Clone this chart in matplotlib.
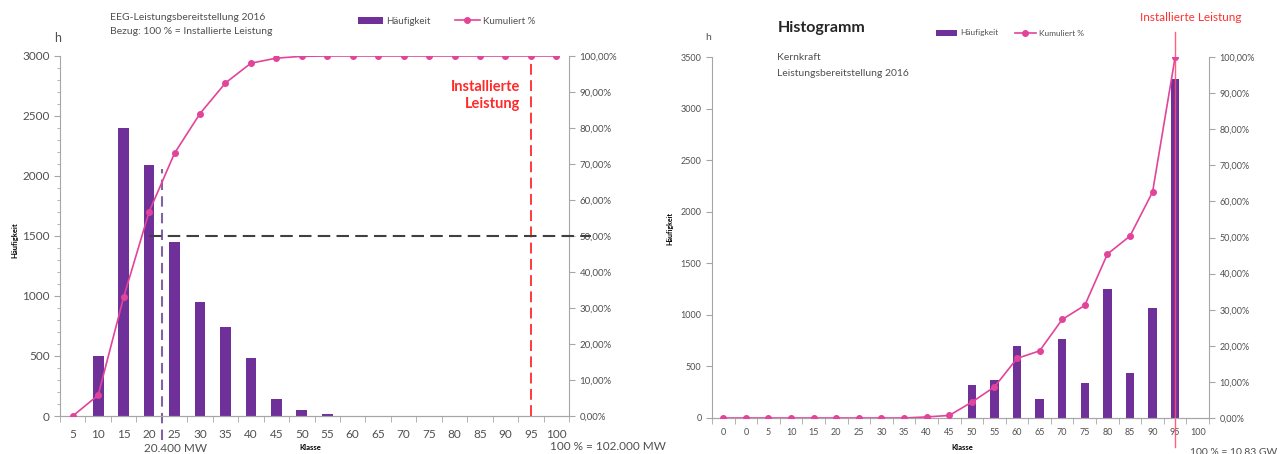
"""
Two Excel-style histograms (EEG and Kernkraft power availability 2016)
with cumulative percentage on a secondary axis.
"""

import matplotlib
matplotlib.use("Agg")
import matplotlib.pyplot as plt
from matplotlib.ticker import FuncFormatter, MultipleLocator
import numpy as np

plt.rcParams["font.family"] = ["Lato", "DejaVu Sans"]

BAR_COLOR  = "#70309A"
LINE_COLOR = "#E2449A"
AXIS_GRAY  = "#A6A6A6"
TEXT_COLOR = "#505050"

# ── EEG (left chart) ───────────────────────────────────────────────────────────
eeg_classes = ["5", "10", "15", "20", "25", "30", "35", "40", "45", "50",
               "55", "60", "65", "70", "75", "80", "85", "90", "95", "100"]
eeg_hours   = [0, 500, 2400, 2090, 1450, 950, 745, 480, 140, 50,
               15, 0, 0, 0, 0, 0, 0, 0, 0, 0]
eeg_cum_pct = [0, 5.8, 33, 56.7, 73, 84, 92.5, 98, 99.4, 99.9,
               100, 100, 100, 100, 100, 100, 100, 100, 100, 100]

# ── Kernkraft (right chart) ────────────────────────────────────────────────────
kk_classes = ["0", "0", "5", "10", "15", "20", "25", "30", "35", "40", "45",
              "50", "55", "60", "65", "70", "75", "80", "85", "90", "95", "100"]
kk_hours   = [0, 0, 0, 0, 0, 0, 0, 0, 0, 0, 0,
              320, 370, 695, 183, 765, 338, 1250, 435, 1068, 3285, 0]
kk_cum_pct = [0, 0, 0, 0, 0, 0, 0, 0, 0, 0.3, 0.7,
              4.4, 8.6, 16.5, 18.6, 27.3, 31.2, 45.4, 50.4, 62.6, 100.0]


def pct_fmt(v, _pos):
    return f"{v:.2f}%".replace(".", ",")


def style_axes(ax, ax2, fs):
    for a in (ax, ax2):
        a.spines["top"].set_visible(False)
        for s in ("left", "right", "bottom"):
            a.spines[s].set_color(AXIS_GRAY)
            a.spines[s].set_linewidth(0.8)
        a.tick_params(colors=AXIS_GRAY, labelcolor=TEXT_COLOR, labelsize=fs,
                      length=4, width=0.8)
    ax.spines["right"].set_visible(False)
    ax2.spines["left"].set_visible(False)
    ax2.yaxis.set_major_formatter(FuncFormatter(pct_fmt))


fig = plt.figure(figsize=(12.88, 4.54), dpi=100)

# ── left chart ────────────────────────────────────────────────────────────────
ax = fig.add_axes([0.0466, 0.0837, 0.3952, 0.793])
ax2 = ax.twinx()
x = np.arange(len(eeg_classes))
ax.bar(x, eeg_hours, width=0.42, color=BAR_COLOR, label="Häufigkeit", zorder=2)
ax2.plot(x, eeg_cum_pct, color=LINE_COLOR, lw=1.2, marker="o", ms=4,
         label="Kumuliert %", zorder=3)
ax.set_xlim(-0.5, len(x) - 0.5)
ax.set_ylim(0, 3000)
ax2.set_ylim(0, 100)
ax.yaxis.set_major_locator(MultipleLocator(500))
ax.yaxis.set_minor_locator(MultipleLocator(100))
ax2.yaxis.set_major_locator(MultipleLocator(10))
ax.set_xticks(x)
ax.set_xticklabels(eeg_classes)
ax.set_xticks(np.arange(-0.5, len(x), 1), minor=True)
style_axes(ax, ax2, 8.5)
ax.tick_params(axis="x", which="major", length=0, pad=9)
ax.tick_params(axis="x", which="minor", length=4, color=AXIS_GRAY)
ax.tick_params(axis="y", which="minor", length=2.5, color=AXIS_GRAY)
ax2.tick_params(axis="y", labelsize=7)

# reference lines
ax.plot([3.5, 3.5], [-200, 2060], color="#8064A2", lw=1.5, ls=(0, (5, 3)),
        clip_on=False, zorder=4)
ax2.plot([3.0, 20.35], [50, 50], color="#404040", lw=1.5, ls=(0, (6, 3)),
         clip_on=False, zorder=4)
ax.axvline(18, ymin=0, ymax=1.0, color="#FF2A2A", lw=1.3, ls=(0, (6, 3)),
           zorder=4)
ax.text(17.6, 2800, "Installierte\nLeistung", color="#FF2A2A", fontsize=10.5,
        fontweight="bold", ha="right", va="top", linespacing=1.3)

fig.text(110 / 1288, 1 - 17 / 454, "EEG-Leistungsbereitstellung 2016",
         fontsize=7.5, color=TEXT_COLOR, va="center")
fig.text(110 / 1288, 1 - 31 / 454, "Bezug: 100 % = Installierte Leistung",
         fontsize=7.5, color=TEXT_COLOR, va="center")
fig.text(58 / 1288, 1 - 38 / 454, "h", fontsize=9, color=TEXT_COLOR,
         ha="center", va="center")
fig.text(15 / 1288, 1 - 240 / 454, "Häufigkeit", fontsize=5.5,
         fontweight="bold", rotation=90, ha="center", va="center")
fig.text(310 / 1288, 1 - 448 / 454, "Klasse", fontsize=5.5,
         fontweight="bold", ha="center", va="center")
fig.text(175 / 1288, 1 - 448 / 454, "20.400 MW", fontsize=8.5,
         color=TEXT_COLOR, ha="center", va="center")
fig.text(550 / 1288, 1 - 446 / 454, "100 % = 102.000 MW", fontsize=8.5,
         color=TEXT_COLOR, ha="left", va="center")

h1, l1 = ax.get_legend_handles_labels()
h2, l2 = ax2.get_legend_handles_labels()
fig.legend(h1 + h2, l1 + l2, loc="center", ncol=2, frameon=False,
           fontsize=7, bbox_to_anchor=(447 / 1288, 1 - 21 / 454),
           handlelength=2.5, handletextpad=0.4, columnspacing=2.5,
           labelcolor=TEXT_COLOR)

# ── right chart ───────────────────────────────────────────────────────────────
bx = fig.add_axes([0.5528, 0.0793, 0.3859, 0.7951])
bx2 = bx.twinx()
xk = np.arange(len(kk_classes))
bx.bar(xk, kk_hours, width=0.37, color=BAR_COLOR, label="Häufigkeit", zorder=2)
bx2.plot(xk[:len(kk_cum_pct)], kk_cum_pct, color=LINE_COLOR, lw=1.2,
         marker="o", ms=4, label="Kumuliert %", zorder=3)
bx.set_xlim(-0.5, len(xk) - 0.5)
bx.set_ylim(0, 3500)
bx2.set_ylim(0, 100)
bx.yaxis.set_major_locator(MultipleLocator(500))
bx2.yaxis.set_major_locator(MultipleLocator(10))
bx.set_xticks(xk)
bx.set_xticklabels(kk_classes)
bx.set_xticks(np.arange(-0.5, len(xk), 1), minor=True)
style_axes(bx, bx2, 6.5)
bx.tick_params(axis="x", which="major", length=0, pad=7)
bx.tick_params(axis="x", which="minor", length=4, color=AXIS_GRAY)
bx2.tick_params(axis="y", labelsize=6.5)

bx.plot([20, 20], [-280, 3740], color="#FF4D6A", lw=1.0, clip_on=False,
        zorder=4, alpha=0.9)
bx.text(20.7, 3880, "Installierte Leistung", color="#FF3030", fontsize=8.5,
        ha="center", va="center", clip_on=False)

fig.text(778 / 1288, 1 - 28 / 454, "Histogramm", fontsize=11.5,
         fontweight="bold", color="#262626", va="center")
fig.text(777 / 1288, 1 - 58 / 454, "Kernkraft", fontsize=7.5,
         color=TEXT_COLOR, va="center")
fig.text(777 / 1288, 1 - 74 / 454, "Leistungsbereitstellung 2016",
         fontsize=7.5, color=TEXT_COLOR, va="center")
fig.text(708 / 1288, 1 - 38 / 454, "h", fontsize=7.5, color=TEXT_COLOR,
         ha="center", va="center")
fig.text(670 / 1288, 1 - 228 / 454, "Häufigkeit", fontsize=5,
         fontweight="bold", rotation=90, ha="center", va="center")
fig.text(962 / 1288, 1 - 448 / 454, "Klasse", fontsize=5.5,
         fontweight="bold", ha="center", va="center")
fig.text(1190 / 1288, 1 - 452 / 454, "100 % = 10,83 GW", fontsize=7.5,
         color=TEXT_COLOR, ha="left", va="center")

h1, l1 = bx.get_legend_handles_labels()
h2, l2 = bx2.get_legend_handles_labels()
fig.legend(h1 + h2, l1 + l2, loc="center", ncol=2, frameon=False,
           fontsize=6, bbox_to_anchor=(1010 / 1288, 1 - 33 / 454),
           handlelength=2.5, handletextpad=0.4, columnspacing=2,
           labelcolor=TEXT_COLOR)

fig.savefig("out.png", dpi=100)
